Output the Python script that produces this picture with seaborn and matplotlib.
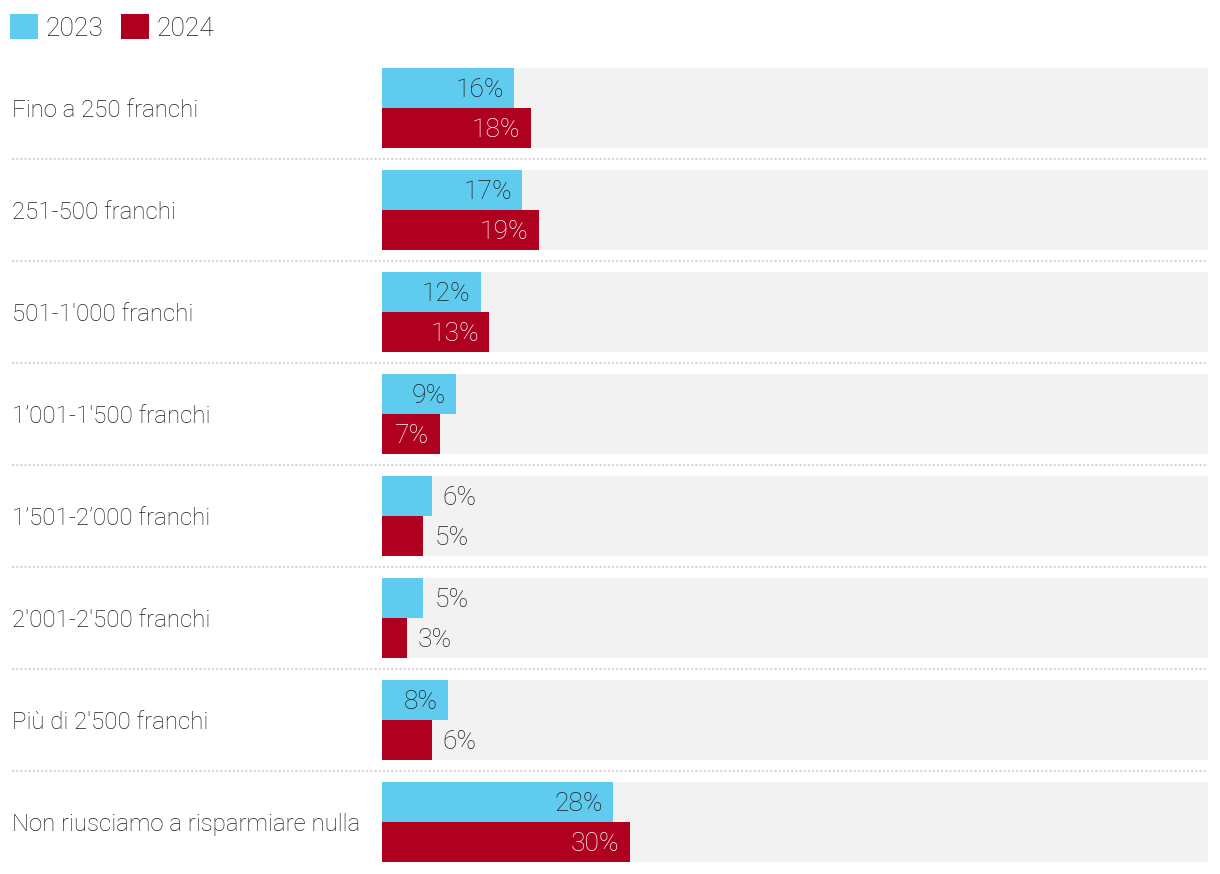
import seaborn as sns
import matplotlib
import matplotlib.pyplot as plt
import matplotlib.transforms as mtransforms
import pandas as pd

# categorie e valori (%)
categories = [
    "Fino a 250 franchi",
    "251-500 franchi",
    "501-1'000 franchi",
    "1’001-1'500 franchi",
    "1’501-2’000 franchi",
    "2'001-2'500 franchi",
    "Più di 2'500 franchi",
    "Non riusciamo a risparmiare nulla",
]
years = ["2023", "2024"]
values_2023 = [16, 17, 12, 9, 6, 5, 8, 28]
values_2024 = [18, 19, 13, 7, 5, 3, 6, 30]
full_scale = [100] * len(categories)

BLUE = "#5fcbee"
RED = "#b0001f"
TEXT = "#1e1e1e"
FS_CAT = 17.3
FS_NUM = 19

sns.set_style("white")
plt.rcParams["font.family"] = ["Roboto", "DejaVu Sans"]
plt.rcParams["font.weight"] = "light"

df = pd.DataFrame({
    "cat": categories * 2,
    "year": [years[0]] * len(categories) + [years[1]] * len(categories),
    "value": values_2023 + values_2024,
})

W, H = 1220, 874
fig = plt.figure(figsize=(W / 100, H / 100), dpi=100)
ax = fig.add_axes([382 / W, 1 / H, 826 / W, 816 / H])

bar_w = 80 / 102
# sfondo grigio
sns.barplot(y=categories, x=full_scale, color="#f2f2f2", width=bar_w,
            saturation=1, linewidth=0, ax=ax)
sns.barplot(data=df, y="cat", x="value", hue="year", hue_order=years,
            palette=[BLUE, RED], width=bar_w, saturation=1, linewidth=0,
            ax=ax)

ax.set_xlim(0, 100)
ax.set_ylim(len(categories) - 0.5, -0.5)
ax.set_xlabel("")
ax.set_ylabel("")
ax.set_xticks([])
sns.despine(ax=ax, left=True, bottom=True)

# etichette categorie allineate a sinistra
ax.tick_params(axis="y", length=0, pad=(382 - 12) * 0.72)
for lab in ax.get_yticklabels():
    lab.set_horizontalalignment("left")
    lab.set_fontsize(FS_CAT)
    lab.set_color(TEXT)
    lab.set_fontweight("light")

# valori sulle barre
for container, vals, inside_color in zip(ax.containers[1:], [values_2023, values_2024], [TEXT, "white"]):
    for rect, v in zip(container, vals):
        y = rect.get_y() + rect.get_height() / 2
        x = rect.get_width()
        if v >= 7:
            ax.annotate(f"{v}%", (x, y), xytext=(-7.5, -1.2), textcoords="offset points",
                        ha="right", va="center", fontsize=FS_NUM, color=inside_color,
                        fontweight="light")
        else:
            ax.annotate(f"{v}%", (x, y), xytext=(8, -1.2), textcoords="offset points",
                        ha="left", va="center", fontsize=FS_NUM, color=TEXT,
                        fontweight="light")

# separatori tratteggiati
trans = mtransforms.blended_transform_factory(fig.transFigure, ax.transData)
for i in range(len(categories) - 1):
    ax.plot([12 / W, 1208 / W], [i + 0.5, i + 0.5], transform=trans,
            color="#d6d6d6", linewidth=1.5, linestyle=(0, (1, 1)), clip_on=False)

# legenda
sns.move_legend(ax, "upper left", bbox_to_anchor=(10 / W, 1 - 14 / H),
                bbox_transform=fig.transFigure, ncol=2, frameon=False, title=None,
                prop={"size": FS_NUM, "weight": "light"},
                handlelength=1.05, handleheight=1.1,
                handletextpad=0.28, columnspacing=0.7, borderpad=0, borderaxespad=0)
for t in ax.get_legend().get_texts():
    t.set_color(TEXT)

fig.savefig("out.png", dpi=100)
plt.close()
